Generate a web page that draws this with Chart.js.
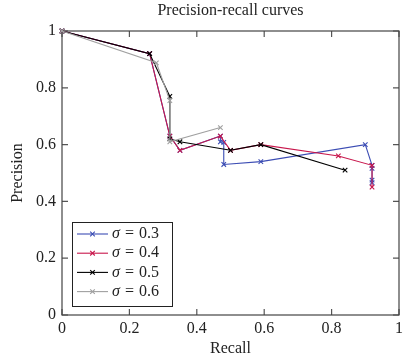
<!DOCTYPE html>
<html>
<head>
<meta charset="utf-8">
<script src="https://cdn.jsdelivr.net/npm/chart.js@4.4.1/dist/chart.umd.min.js"></script>
<style>
  html, body { margin: 0; padding: 0; background: #fff; }
  #wrap { width: 407px; height: 360px; position: relative; }
  #probe { position: absolute; left: -1000px; top: 0; font-family: "Liberation Serif"; font-size: 16px; }
  #probe i { font-style: italic; }
</style>
</head>
<body>
<div id="probe">Precision <i>σ</i> 0.2</div>
<div id="wrap"><canvas id="c" width="407" height="360"></canvas></div>
<script>
const chartTitle = "Precision-recall curves";
const xLabel = "Recall";
const yLabel = "Precision";
const tickValues = [0, 0.2, 0.4, 0.6, 0.8, 1];
const tickLabels = ["0", "0.2", "0.4", "0.6", "0.8", "1"];

const seriesNames = ["σ = 0.3", "σ = 0.4", "σ = 0.5", "σ = 0.6"];
const seriesSymbols = ["0.3", "0.4", "0.5", "0.6"];
const seriesColors = ["#3c4db4", "#c8174c", "#000000", "#a0a0a0"];

const recall03 =    [0, 0.26, 0.32, 0.35, 0.47, 0.47, 0.48, 0.48, 0.59, 0.90, 0.92, 0.92, 0.92, 0.92];
const precision03 = [1, 0.92, 0.63, 0.58, 0.63, 0.61, 0.608, 0.53, 0.54, 0.60, 0.527, 0.516, 0.475, 0.466];

const recall04 =    [0, 0.26, 0.32, 0.35, 0.47, 0.50, 0.59, 0.82, 0.92, 0.92];
const precision04 = [1, 0.92, 0.63, 0.58, 0.63, 0.58, 0.60, 0.56, 0.527, 0.45];

const recall05 =    [0, 0.26, 0.32, 0.32, 0.35, 0.50, 0.59, 0.84];
const precision05 = [1, 0.92, 0.77, 0.62, 0.61, 0.58, 0.60, 0.51];

const recall06 =    [0, 0.28, 0.32, 0.32, 0.47];
const precision06 = [1, 0.888, 0.755, 0.61, 0.66];

const recalls = [recall03, recall04, recall05, recall06];
const precisions = [precision03, precision04, precision05, precision06];

const FONT = '"Liberation Serif", "DejaVu Serif", serif';
const FS = 16;

const datasets = seriesNames.map((name, i) => ({
  label: name,
  data: recalls[i].map((x, j) => ({x: x, y: precisions[i][j]})),
  showLine: true,
  borderColor: seriesColors[i],
  backgroundColor: seriesColors[i],
  borderWidth: 1.1,
  pointStyle: 'crossRot',
  pointRadius: 3.2,
  pointBorderWidth: 1.1,
  pointHoverRadius: 3.2,
  clip: false,
  order: 4 - i
}));

const frameAndLegend = {
  id: 'frameAndLegend',
  beforeDatasetsDraw(chart) {
    const {ctx, chartArea: a, scales} = chart;
    ctx.save();
    ctx.strokeStyle = '#555555';
    ctx.lineWidth = 1.2;
    const tl = 6;
    for (const v of tickValues) {
      const px = scales.x.getPixelForValue(v);
      const py = scales.y.getPixelForValue(v);
      ctx.beginPath();
      ctx.moveTo(px, a.bottom); ctx.lineTo(px, a.bottom - tl);
      ctx.moveTo(px, a.top); ctx.lineTo(px, a.top + tl);
      ctx.moveTo(a.left, py); ctx.lineTo(a.left + tl, py);
      ctx.moveTo(a.right, py); ctx.lineTo(a.right - tl, py);
      ctx.stroke();
    }
    ctx.strokeStyle = '#444444';
    ctx.lineWidth = 1.2;
    ctx.strokeRect(a.left, a.top, a.right - a.left, a.bottom - a.top);
    ctx.fillStyle = '#222';
    ctx.font = FS + 'px ' + FONT;
    ctx.textAlign = 'center';
    ctx.textBaseline = 'middle';
    ctx.fillText(chartTitle, (a.left + a.right) / 2, 11);
    ctx.restore();
  },
  afterDatasetsDraw(chart) {
    const {ctx, chartArea: a} = chart;
    ctx.save();
    const bx = a.left + 10, by = a.bottom - 93, bw = 100, bh = 84;
    ctx.fillStyle = '#fff';
    ctx.fillRect(bx, by, bw, bh);
    ctx.strokeStyle = '#222';
    ctx.lineWidth = 1;
    ctx.strokeRect(bx + 0.5, by + 0.5, bw, bh);
    chart.data.datasets.forEach((ds, i) => {
      const y = by + 12 + i * 19.2;
      const x0 = bx + 5, x1 = bx + 36;
      ctx.strokeStyle = ds.borderColor;
      ctx.lineWidth = 1.1;
      ctx.beginPath(); ctx.moveTo(x0, y); ctx.lineTo(x1, y); ctx.stroke();
      const mx = (x0 + x1) / 2, r = 2.3;
      ctx.beginPath();
      ctx.moveTo(mx - r, y - r); ctx.lineTo(mx + r, y + r);
      ctx.moveTo(mx - r, y + r); ctx.lineTo(mx + r, y - r);
      ctx.stroke();
      ctx.fillStyle = '#222';
      ctx.textAlign = 'left';
      ctx.textBaseline = 'middle';
      ctx.font = 'italic ' + FS + 'px ' + FONT;
      const tx = bx + 40;
      ctx.fillText('σ', tx, y);
      const sw = ctx.measureText('σ').width;
      ctx.font = FS + 'px ' + FONT;
      ctx.fillText('=', tx + sw + 5, y);
      const ew = ctx.measureText('=').width;
      ctx.fillText(seriesSymbols[i], tx + sw + 5 + ew + 5, y);
    });
    ctx.restore();
  }
};

function build() {
  new Chart(document.getElementById('c'), {
    type: 'scatter',
    data: { datasets: datasets },
    options: {
      responsive: false,
      animation: false,
      events: [],
      layout: { padding: { left: 0, right: 4, top: 31, bottom: 0 } },
      plugins: {
        legend: { display: false },
        title: { display: false },
        tooltip: { enabled: false }
      },
      scales: {
        x: {
          type: 'linear', min: 0, max: 1,
          afterBuildTicks: s => { s.ticks = tickValues.map(v => ({value: v})); },
          afterFit: s => { s.height = 45; },
          ticks: {
            color: '#222', font: { family: FONT, size: FS }, padding: 4,
            maxRotation: 0, autoSkip: false,
            callback: (v) => tickLabels[tickValues.indexOf(v)] ?? ''
          },
          grid: { display: false, drawTicks: false },
          border: { display: false },
          title: { display: true, text: xLabel, color: '#222', font: { family: FONT, size: FS }, padding: { top: 0, bottom: 2 } }
        },
        y: {
          type: 'linear', min: 0, max: 1,
          afterBuildTicks: s => { s.ticks = tickValues.map(v => ({value: v})); },
          afterFit: s => { s.width = 62; },
          ticks: {
            color: '#222', font: { family: FONT, size: FS }, padding: 6,
            autoSkip: false,
            callback: (v) => tickLabels[tickValues.indexOf(v)] ?? ''
          },
          grid: { display: false, drawTicks: false },
          border: { display: false },
          title: { display: true, text: yLabel, color: '#222', font: { family: FONT, size: FS }, padding: { top: 8, bottom: 0 } }
        }
      }
    },
    plugins: [frameAndLegend]
  });
}

if (document.fonts && document.fonts.load) {
  Promise.all([
    document.fonts.load('16px "Liberation Serif"'),
    document.fonts.load('italic 16px "Liberation Serif"')
  ]).then(build, build);
} else {
  build();
}
</script>
</body>
</html>
